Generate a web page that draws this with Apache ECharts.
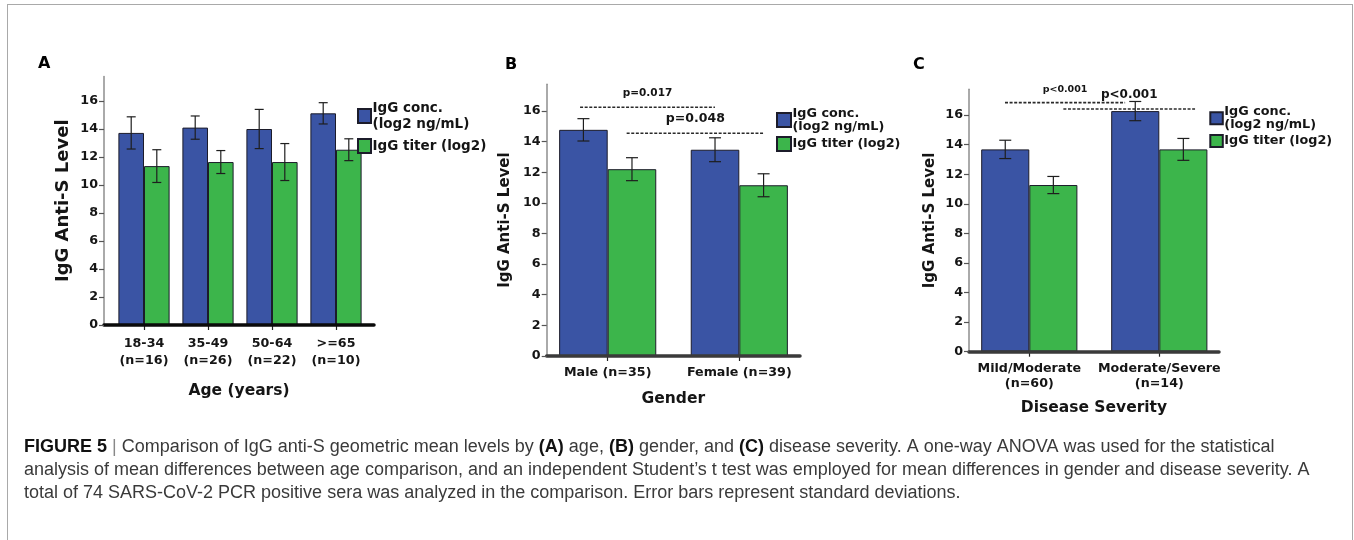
<!DOCTYPE html>
<html>
<head>
<meta charset="utf-8">
<script src="https://cdn.jsdelivr.net/npm/echarts@6/dist/echarts.min.js"></script>
<style>
  html, body { margin: 0; padding: 0; background: #fff; }
  #chart { width: 1354px; height: 540px; }
  #frame { position: absolute; left: 7px; top: 4px; width: 1344px; height: 620px; z-index: 10;
           border: 1.5px solid #a9a9a9; border-bottom: none; pointer-events: none; }
</style>
</head>
<body>
<div id="chart"></div>
<div id="frame"></div>
<script>
// ---- data -------------------------------------------------------------
const CONC = 'IgG conc.\n(log2 ng/mL)';
const TITER = 'IgG titer (log2)';
const yTicks = [0, 2, 4, 6, 8, 10, 12, 14, 16];
const yMax = 17.75;

// (A) age groups
const ageCategories = ['18-34\n(n=16)', '35-49\n(n=26)', '50-64\n(n=22)', '>=65\n(n=10)'];
const ageConc = [13.72, 14.1, 14.0, 15.12];
const ageConcSD = [1.15, 0.83, 1.4, 0.76];
const ageTiter = [11.35, 11.64, 11.64, 12.52];
const ageTiterSD = [1.17, 0.82, 1.32, 0.78];

// (B) gender
const genderCategories = ['Male (n=35)', 'Female (n=39)'];
const genderConc = [14.77, 13.47];
const genderConcSD = [0.73, 0.78];
const genderTiter = [12.2, 11.15];
const genderTiterSD = [0.75, 0.75];
// comparison brackets: [from, to] in category units, level
const genderTests = [[-0.21, 0.815, 16.24], [0.144, 1.188, 14.55]];
const genderTestLabels = ['p=0.017', 'p=0.048'];

// (C) disease severity
const severityCategories = ['Mild/Moderate\n(n=60)', 'Moderate/Severe\n(n=14)'];
const severityConc = [13.68, 16.27];
const severityConcSD = [0.62, 0.65];
const severityTiter = [11.27, 13.68];
const severityTiterSD = [0.58, 0.74];
const severityTests = [[-0.187, 0.737, 16.84], [0.262, 1.275, 16.41]];
const severityTestLabels = ['p<0.001', 'p<0.001'];

// ---- styling / layout -----------------------------------------------------
const FONT = 'DejaVu Sans';
const BLUE = '#3a54a4';
const GREEN = '#3cb54b';
const INK = '#151515';

const panels = [
  {
    letter: 'A', letterPos: [38, 56],
    cats: ageCategories, conc: ageConc, concSD: ageConcSD, titer: ageTiter, titerSD: ageTiterSD,
    axisGrid: { left: 104, top: 76.5, width: 270, height: 248.5 },
    barGrid: { left: 112, width: 256 }, barFrac: 0.40, cap: 4.5,
    xName: 'Age (years)', xNameGap: 58, yNameSize: 18, yNameGap: 32,
    axisColor: '#0a0a0a', xLabelLH: 17, xLabelMargin: 10,
    legend: { left: 357, top: 100, w: 13, h: 14, lh: 16, gap: 6, size: 13.5 },
    tests: null
  },
  {
    letter: 'B', letterPos: [505, 57],
    cats: genderCategories, conc: genderConc, concSD: genderConcSD, titer: genderTiter, titerSD: genderTiterSD,
    axisGrid: { left: 546.7, top: 84.2, width: 253.3, height: 271.8 },
    barGrid: { left: 541.9, width: 263.2 }, barFrac: 0.369, cap: 6,
    xName: 'Gender', xNameGap: 35, yNameSize: 15, yNameGap: 34,
    axisColor: '#3a3a3a', xLabelLH: 16, xLabelMargin: 9,
    legend: { left: 776, top: 106.5, w: 14, h: 14, lh: 13.4, gap: 2.6, size: 12.8 },
    tests: genderTests, testLabels: genderTestLabels, testSizes: [10.5, 12.5]
  },
  {
    letter: 'C', letterPos: [913, 57],
    cats: severityCategories, conc: severityConc, concSD: severityConcSD, titer: severityTiter, titerSD: severityTiterSD,
    axisGrid: { left: 969, top: 89.2, width: 250, height: 262.5 },
    barGrid: { left: 964.3, width: 260 }, barFrac: 0.37, cap: 6,
    xName: 'Disease Severity', xNameGap: 48, yNameSize: 15, yNameGap: 31.5,
    axisColor: '#3a3a3a', xLabelLH: 15, xLabelMargin: 9,
    legend: { left: 1209.3, top: 105, w: 12.5, h: 12, lh: 13.3, gap: 2.3, size: 12.8 },
    tests: severityTests, testLabels: severityTestLabels, testSizes: [9.5, 12]
  }
];

// error bar drawn at the centre of the bar on the given side of the category
function errorBarRenderer(side, frac, cap) {
  return function (params, api) {
    const i = api.value(0), m = api.value(1), sd = api.value(2);
    const band = api.size([1, 0])[0];
    const cx = api.coord([i, m])[0] + side * band * frac / 2;
    const yHi = api.coord([i, m + sd])[1];
    const yLo = api.coord([i, m - sd])[1];
    const st = { stroke: '#1e1e1e', lineWidth: 1.2 };
    return {
      type: 'group',
      children: [
        { type: 'line', shape: { x1: cx, y1: yHi, x2: cx, y2: yLo }, style: st },
        { type: 'line', shape: { x1: cx - cap, y1: yHi, x2: cx + cap, y2: yHi }, style: st },
        { type: 'line', shape: { x1: cx - cap, y1: yLo, x2: cx + cap, y2: yLo }, style: st }
      ]
    };
  };
}

// dashed comparison line with its p-value above
function testRenderer(labels, sizes) {
  return function (params, api) {
    const from = api.value(0), to = api.value(1), level = api.value(2);
    const band = api.size([1, 0])[0];
    const origin = api.coord([0, level]);
    const x1 = origin[0] + from * band;
    const x2 = origin[0] + to * band;
    const y = origin[1];
    const fs = sizes[params.dataIndex];
    return {
      type: 'group',
      children: [
        { type: 'line', shape: { x1: x1, y1: y, x2: x2, y2: y },
          style: { stroke: '#2a2a2a', lineWidth: 1.6, lineDash: [3, 1.6] } },
        { type: 'text', x: (x1 + x2) / 2, y: y - (fs * 0.5 + 8.5),
          style: { text: labels[params.dataIndex], fontFamily: FONT, fontWeight: 'bold',
                   fontSize: fs, fill: INK, align: 'center', verticalAlign: 'middle' } }
      ]
    };
  };
}

const option = {
  backgroundColor: '#fff',
  animation: false,
  title: [], legend: [], grid: [], xAxis: [], yAxis: [], series: []
};

panels.forEach(function (p, k) {
  const gA = 2 * k, gB = 2 * k + 1;
  const ag = p.axisGrid;

  // grid carrying the drawn axes (y axis + heavy baseline)
  option.grid.push({ left: ag.left, top: ag.top, width: ag.width, height: ag.height, outerBoundsMode: 'none' });
  // grid carrying the bars (one band per category)
  option.grid.push({ left: p.barGrid.left, top: ag.top, width: p.barGrid.width, height: ag.height, outerBoundsMode: 'none' });

  option.xAxis.push({
    gridIndex: gA, type: 'value', min: 0, max: 1, z: 5,
    axisLine: { show: true, lineStyle: { color: p.axisColor, width: 3.5 } },
    axisTick: { show: false }, axisLabel: { show: false }, splitLine: { show: false },
    name: p.xName, nameLocation: 'middle', nameGap: p.xNameGap,
    nameTextStyle: { fontFamily: FONT, fontWeight: 'bold', fontSize: 15.5, color: INK }
  });
  option.yAxis.push({
    gridIndex: gA, type: 'value', min: 0, max: yMax, interval: 2, z: 5,
    axisLine: { show: true, lineStyle: { color: '#8e8e8e', width: 1.5 } },
    axisTick: { show: true, length: 5, customValues: yTicks, lineStyle: { color: '#555', width: 1.2 } },
    axisLabel: { show: true, customValues: yTicks, margin: 6, fontFamily: FONT, fontWeight: 'bold', fontSize: 12.7, color: INK },
    splitLine: { show: false },
    name: 'IgG Anti-S Level', nameLocation: 'middle', nameGap: p.yNameGap, nameRotate: 90,
    nameTextStyle: { fontFamily: FONT, fontWeight: 'bold', fontSize: p.yNameSize, color: INK }
  });

  option.xAxis.push({
    gridIndex: gB, type: 'category', data: p.cats,
    axisLine: { show: false },
    axisTick: { show: true, alignWithLabel: true, length: 5, lineStyle: { color: '#222', width: 1.2 } },
    axisLabel: { interval: 0, margin: p.xLabelMargin, fontFamily: FONT, fontWeight: 'bold', fontSize: 12.7,
                 color: INK, lineHeight: p.xLabelLH },
    splitLine: { show: false }
  });
  option.yAxis.push({ gridIndex: gB, type: 'value', min: 0, max: yMax, show: false, splitLine: { show: false } });

  const barStyle = function (c) { return { color: c, borderColor: '#1c1c2a', borderWidth: 1 }; };
  option.series.push({
    type: 'bar', name: CONC, xAxisIndex: gB, yAxisIndex: gB, data: p.conc,
    barWidth: (p.barFrac * 100) + '%', barGap: '0%', itemStyle: barStyle(BLUE), z: 2
  });
  option.series.push({
    type: 'bar', name: TITER, xAxisIndex: gB, yAxisIndex: gB, data: p.titer,
    barWidth: (p.barFrac * 100) + '%', barGap: '0%', itemStyle: barStyle(GREEN), z: 2
  });
  option.series.push({
    type: 'custom', xAxisIndex: gB, yAxisIndex: gB, z: 4,
    data: p.conc.map(function (v, i) { return [i, v, p.concSD[i]]; }),
    renderItem: errorBarRenderer(-1, p.barFrac, p.cap)
  });
  option.series.push({
    type: 'custom', xAxisIndex: gB, yAxisIndex: gB, z: 4,
    data: p.titer.map(function (v, i) { return [i, v, p.titerSD[i]]; }),
    renderItem: errorBarRenderer(1, p.barFrac, p.cap)
  });
  if (p.tests) {
    option.series.push({
      type: 'custom', xAxisIndex: gB, yAxisIndex: gB, z: 4, clip: false,
      dimensions: [{ name: 'from', type: 'number' }, { name: 'to', type: 'number' }, { name: 'level', type: 'number' }],
      encode: { x: 0, y: 2 },
      data: p.tests,
      renderItem: testRenderer(p.testLabels, p.testSizes)
    });
  }

  const L = p.legend;
  option.legend.push({
    orient: 'vertical', left: L.left, top: L.top, padding: 0,
    itemWidth: L.w, itemHeight: L.h, itemGap: L.gap, icon: 'rect', selectedMode: false,
    data: [CONC, TITER],
    textStyle: { fontFamily: FONT, fontWeight: 'bold', fontSize: L.size, color: INK,
                 lineHeight: L.lh, padding: [0, 0, 0, -3.5] }
  });

  option.title.push({
    text: p.letter, left: p.letterPos[0], top: p.letterPos[1], padding: 0,
    textStyle: { fontFamily: FONT, fontWeight: 'bold', fontSize: 16, color: '#000' }
  });
});

// figure caption
const CAP = { fontFamily: 'Liberation Sans', fontSize: 18, lineHeight: 23, color: '#3a3a3a' };
option.title.push({
  left: 24, top: 436, padding: 0,
  text: '{b|FIGURE 5} {bar||} Comparison of IgG anti-S geometric mean levels by {b|(A)} age, {b|(B)} gender, and {b|(C)} disease severity. A one-way ANOVA was used for the statistical\n' +
        'analysis of mean differences between age comparison, and an independent Student\u2019s t test was employed for mean differences in gender and disease severity. A\n' +
        'total of 74 SARS-CoV-2 PCR positive sera was analyzed in the comparison. Error bars represent standard deviations.',
  textStyle: Object.assign({ fontWeight: 'normal',
    rich: {
      b: Object.assign({}, CAP, { fontWeight: 'bold', color: '#111' }),
      bar: Object.assign({}, CAP, { color: '#888' })
    } }, CAP)
});

const chart = echarts.init(document.getElementById('chart'), null, { renderer: 'canvas' });
chart.setOption(option);
</script>
</body>
</html>
